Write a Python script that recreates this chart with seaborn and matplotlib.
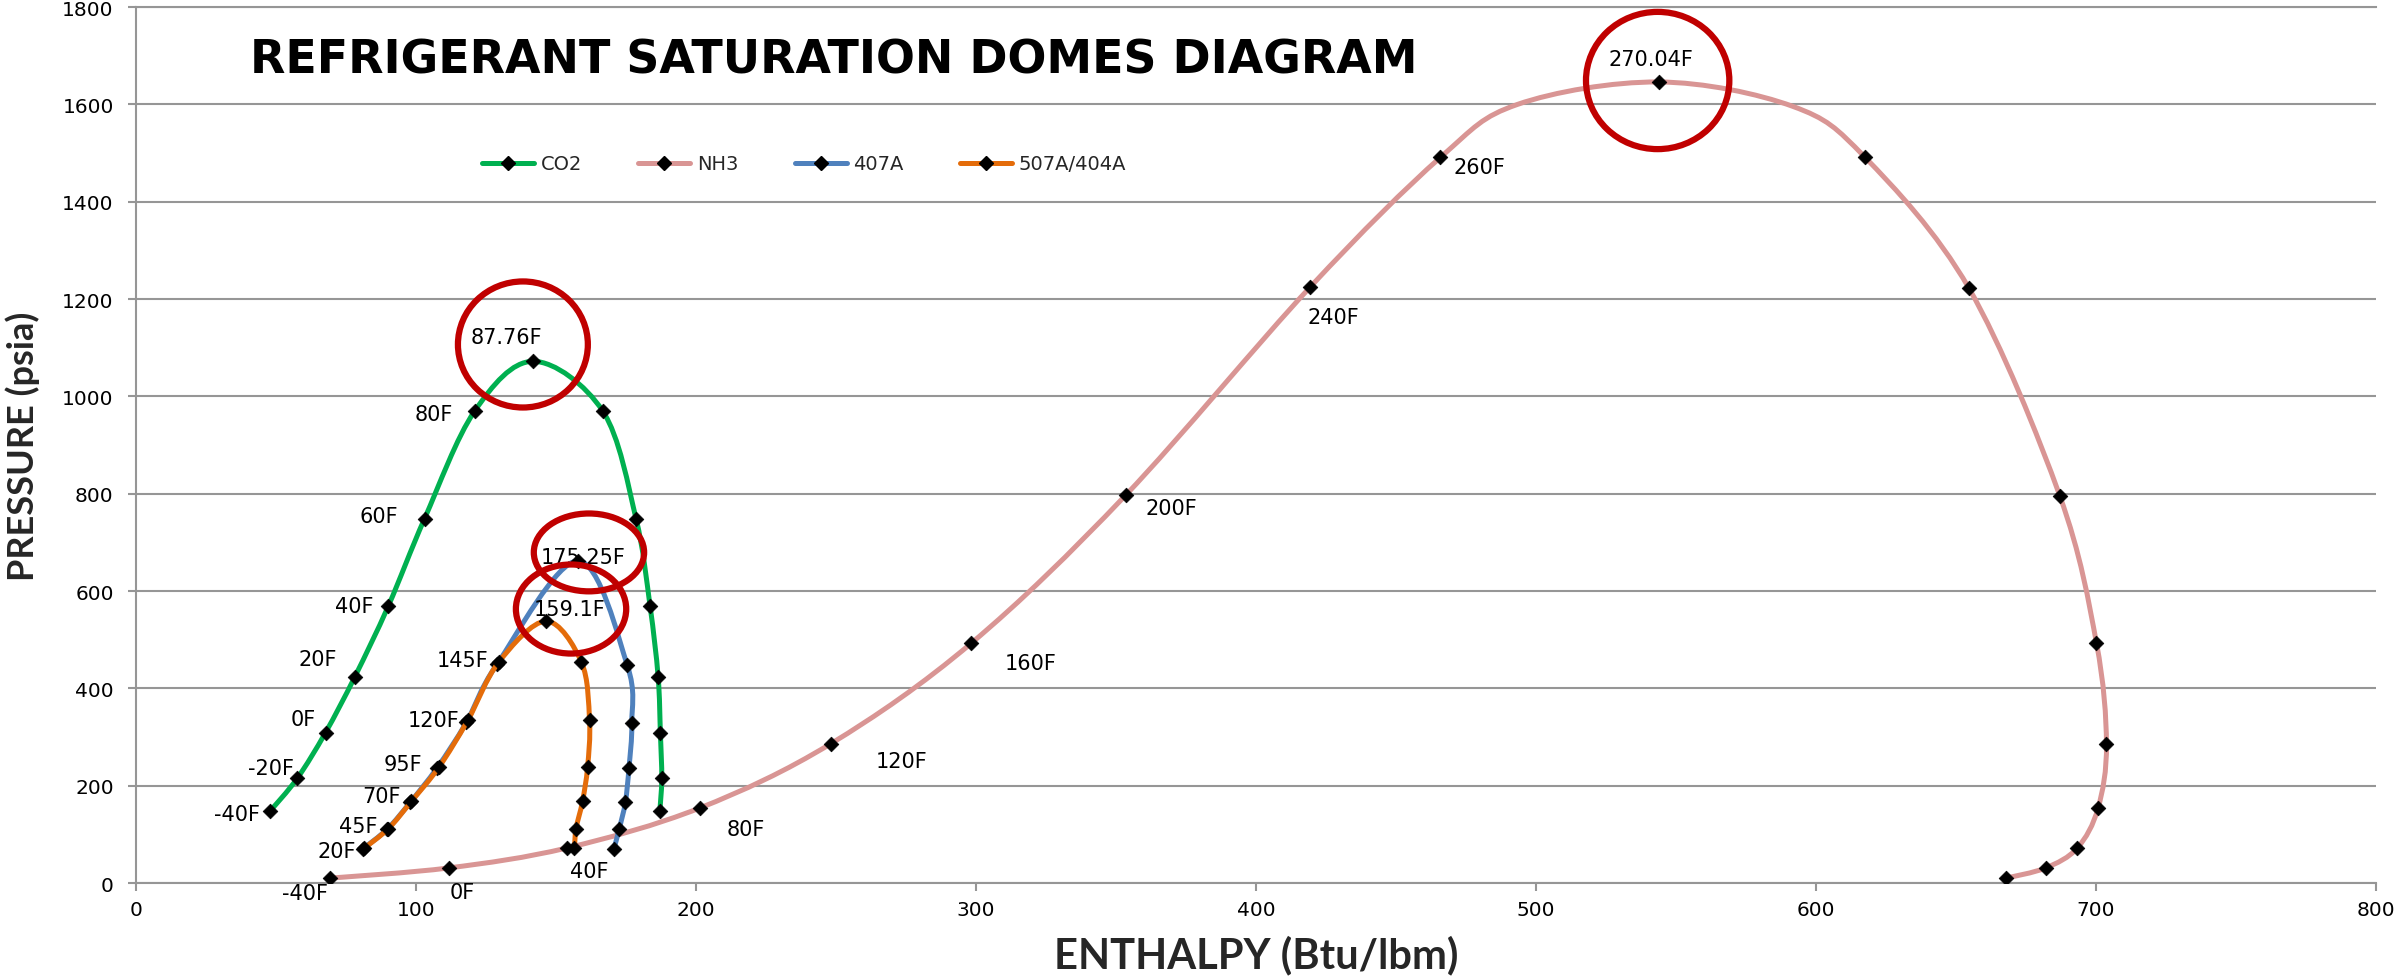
import numpy as np
import pandas as pd
import matplotlib
matplotlib.use("Agg")
import matplotlib.pyplot as plt
from matplotlib.path import Path
from matplotlib.patches import PathPatch, Ellipse
from matplotlib.lines import Line2D
import seaborn as sns

# Saturation dome points (enthalpy Btu/lbm, pressure psia)
co2_h = [47.8, 57.6, 67.7, 78.2, 90.2, 103.1, 121.0, 141.9, 166.7, 178.6, 183.6, 186.5, 187.3, 187.8, 187.1]
co2_p = [147, 215, 309, 424, 570, 749, 970, 1072, 970, 749, 570, 424, 309, 215, 147]
co2_labels = ['-40F', '-20F', '0F', '20F', '40F', '60F', '80F', '87.76F'] + [''] * 7

nh3_h = [69.3, 111.7, 153.9, 201.3, 248.1, 298.4, 353.5, 419.3, 465.9, 493.5, 543.8, 591.7,
         617.6, 654.7, 687.1, 700.2, 703.8, 700.8, 693.4, 682.1, 667.9]
nh3_p = [10, 31, 72, 154, 286, 493, 797, 1224, 1491, 1600, 1646, 1596,
         1491, 1222, 796, 494, 286, 154, 72, 31, 10]
nh3_marker = [True] * 9 + [False, True, False] + [True] * 9
nh3_labels = ['-40F', '0F', '40F', '80F', '120F', '160F', '200F', '240F', '260F', '', '270.04F', ''] + [''] * 9

r407a_h = [81.0, 89.8, 98.0, 107.6, 118.0, 129.0, 157.9, 175.5, 177.1, 176.1, 174.8, 172.6, 170.7]
r407a_p = [70, 111, 166, 237, 330, 450, 662, 447, 328, 237, 166, 111, 70]
r407a_labels = [''] * 6 + ['175.25F'] + [''] * 6

r507a_h = [81.4, 90.2, 98.4, 108.2, 118.5, 129.6, 146.5, 159.1, 162.0, 161.3, 159.5, 157.2, 156.6]
r507a_p = [71, 112, 168, 238, 334, 454, 538, 454, 334, 238, 168, 112, 71]
r507a_labels = ['20F', '45F', '70F', '95F', '120F', '145F', '159.1F'] + [''] * 6

series_names = ['CO2', 'NH3', '407A', '507A/404A']
series_colors = ['#00B050', '#D99594', '#4F81BD', '#E46C0A']

# label placement: (dx px, dy px, ha)
co2_pos = {'-40F': (-10, -3, 'right'), '-20F': (-3, 10, 'right'), '0F': (-10, 14, 'right'),
           '20F': (-18, 18, 'right'), '40F': (-15, 0, 'right'), '60F': (-26, 3, 'right'),
           '80F': (-22, -3, 'right'), '87.76F': (-27, 24, 'center')}
nh3_pos = {'-40F': (-25, -15, 'center'), '0F': (14, -24, 'center'), '40F': (22, -23, 'center'),
           '80F': (27, -21, 'left'), '120F': (45, -17, 'left'), '160F': (33, -20, 'left'),
           '200F': (20, -13, 'left'), '240F': (23, -30, 'center'), '260F': (13, -10, 'left'),
           '270.04F': (-8, 23, 'center')}
r407a_pos = {'175.25F': (5, 4, 'center')}
r507a_pos = {'20F': (-8, -3, 'right'), '45F': (-11, 3, 'right'), '70F': (-11, 5, 'right'),
             '95F': (-17, 3, 'right'), '120F': (-8, 0, 'right'), '145F': (-10, 2, 'right'),
             '159.1F': (23, 12, 'center')}

sns.set_theme(style="white")
plt.rcParams['font.family'] = ['DejaVu Sans']


def smooth_path(xs, ys):
    # smoothed line like the spreadsheet's, as cubic bezier through the points
    pts = np.column_stack([xs, ys]).astype(float)
    n = len(pts)
    verts = [pts[0]]
    codes = [Path.MOVETO]
    for i in range(n - 1):
        p0 = pts[max(i - 1, 0)]
        p1 = pts[i]
        p2 = pts[i + 1]
        p3 = pts[min(i + 2, n - 1)]
        verts += [p1 + (p2 - p0) / 6, p2 - (p3 - p1) / 6, p2]
        codes += [Path.CURVE4] * 3
    return Path(verts, codes)


fig = plt.figure(figsize=(24.02, 9.78), dpi=100)
ax = fig.add_axes([0.0566, 0.0961, 0.9325, 0.8957])

grey = '#969696'
series = [
    (co2_h, co2_p, [True] * len(co2_h), co2_labels, co2_pos),
    (nh3_h, nh3_p, nh3_marker, nh3_labels, nh3_pos),
    (r407a_h, r407a_p, [True] * len(r407a_h), r407a_labels, r407a_pos),
    (r507a_h, r507a_p, [True] * len(r507a_h), r507a_labels, r507a_pos),
]

for i, (h, p, mk, labels, pos) in enumerate(series):
    df = pd.DataFrame({'h': h, 'p': p, 'marker': mk, 'label': labels})
    z = 2 + i
    ax.add_patch(PathPatch(smooth_path(df['h'], df['p']), fill=False,
                           edgecolor=series_colors[i], lw=3.6,
                           capstyle='round', joinstyle='round', zorder=z))
    sns.scatterplot(data=df[df['marker']], x='h', y='p', marker='D', s=56,
                    color='black', edgecolor='black', linewidth=0.5,
                    ax=ax, zorder=z + 0.5, legend=False)
    for _, row in df[df['label'] != ''].iterrows():
        dx, dy, ha = pos[row['label']]
        ax.annotate(row['label'], (row['h'], row['p']), xytext=(dx, dy),
                    textcoords='offset pixels', ha=ha, va='center',
                    fontsize=15, color='black', zorder=10)

# red circles around the critical points
circles = [((138.2, 1106.6), 46.4, 259), ((161.8, 679.3), 39.4, 160),
           ((155.4, 563), 39.4, 183), ((543.5, 1649), 51.2, 282)]
for c, w, hgt in circles:
    ax.add_patch(Ellipse(c, w, hgt, fill=False, edgecolor='#C00000', lw=4.5, zorder=12))

ax.set_xlim(0, 800)
ax.set_ylim(0, 1800)
ax.set_xticks(np.arange(0, 801, 100))
ax.set_yticks(np.arange(0, 1801, 200))
ax.yaxis.grid(True, color=grey, lw=1.5)
ax.xaxis.grid(False)
for side in ['left', 'bottom', 'top']:
    ax.spines[side].set_color(grey)
    ax.spines[side].set_linewidth(1.5)
ax.spines['right'].set_visible(False)
ax.tick_params(axis='both', which='major', direction='out', length=6, width=1.5,
               color=grey, labelsize=14.5, labelcolor='black')
ax.tick_params(axis='y', pad=10, left=True)
ax.tick_params(axis='x', pad=6, bottom=True)

ax.set_xlabel('ENTHALPY (Btu/lbm)', fontsize=30, fontweight='bold', family=['Lato', 'DejaVu Sans'])
ax.set_ylabel('PRESSURE (psia)', fontsize=26, fontweight='bold', family=['Lato', 'DejaVu Sans'])
ax.xaxis.label.set_va('center')
ax.yaxis.label.set_va('center')
ax.xaxis.set_label_coords(0.5, -0.082)
ax.yaxis.set_label_coords(-0.0504, 0.5)

ax.text(0.0509, 0.9258, 'REFRIGERANT SATURATION DOMES DIAGRAM', transform=ax.transAxes,
        ha='left', va='baseline', fontsize=33, fontweight='bold', color='black')

handles = [Line2D([], [], color=c, lw=3.6, marker='D', markersize=7.5,
                  markerfacecolor='black', markeredgecolor='black') for c in series_colors]
ax.legend(handles, series_names, ncol=4, frameon=False, loc='center left',
          bbox_to_anchor=(0.1545, 0.821), fontsize=14, handlelength=2.67,
          handletextpad=0.34, columnspacing=2.9, borderpad=0, borderaxespad=0)

plt.savefig('out.png', dpi=100)
